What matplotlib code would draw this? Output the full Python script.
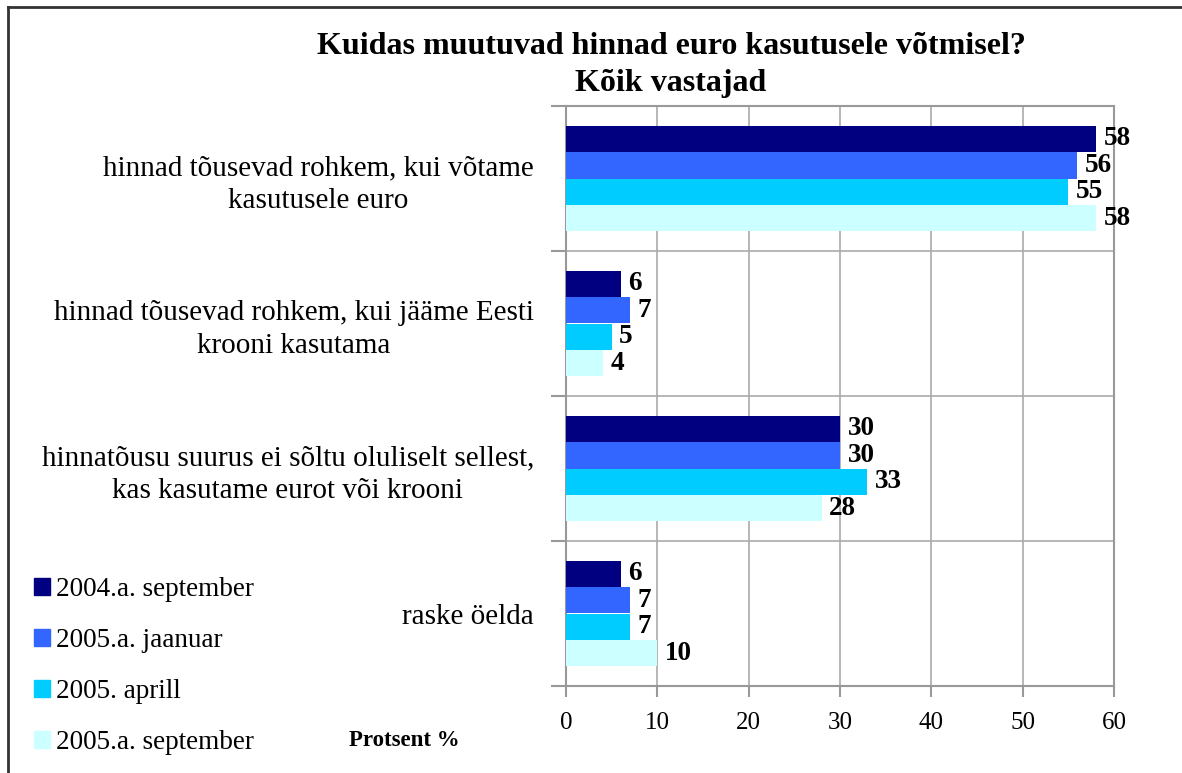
import matplotlib.pyplot as plt
from matplotlib.lines import Line2D
from matplotlib.patches import Patch
import numpy as np

plt.rcParams['font.family'] = ['Liberation Serif', 'DejaVu Serif']

categories = ['hinnad tõusevad rohkem, kui võtame\nkasutusele euro',
              'hinnad tõusevad rohkem, kui jääme Eesti\nkrooni kasutama',
              'hinnatõusu suurus ei sõltu oluliselt sellest,\nkas kasutame eurot või krooni',
              'raske öelda']
series_names = ['2004.a. september', '2005.a. jaanuar', '2005. aprill', '2005.a. september']
sep_2004 = [58, 6, 30, 6]
jan_2005 = [56, 7, 30, 7]
apr_2005 = [55, 5, 33, 7]
sep_2005 = [58, 4, 28, 10]
colors = ['#000080', '#3366FF', '#00CCFF', '#CCFFFF']

W, H = 1182, 773
fig = plt.figure(figsize=(W / 100, H / 100), dpi=100)
ax = fig.add_axes([566 / W, 1 - 686 / H, (1114 - 566) / W, (686 - 106) / H])

y = np.arange(len(categories))
bh = 0.73 / 4
for k, vals in enumerate([sep_2004, jan_2005, apr_2005, sep_2005]):
    offs = (k - 1.5) * bh
    bars = ax.barh(y + offs, vals, height=bh, color=colors[k], zorder=3, label=series_names[k])
    ax.bar_label(bars, padding=5.5, fontsize=19.5, fontweight='bold')

ax.set_xlim(0, 60)
ax.set_ylim(3.5, -0.5)
ax.set_xticks(range(0, 61, 10))
ax.set_yticks(np.arange(-0.5, 4, 1))
ax.set_yticklabels([])
ax.set_yticks(y, minor=True)
ax.set_yticklabels(categories, minor=True, fontsize=21, linespacing=1.32)
for lab in ax.get_yticklabels(minor=True):
    lab.set_multialignment('center')
ax.tick_params(axis='y', which='minor', length=0, pad=23)
ax.tick_params(axis='y', which='major', length=11, color='#999999', width=1.5)
ax.tick_params(axis='x', length=8, color='#999999', width=1.5, labelsize=18, pad=11)
ax.grid(True, color='#aaaaaa', linewidth=1.2, zorder=0)
for s in ax.spines.values():
    s.set_color('#999999')
    s.set_linewidth(1.5)

fig.text(671 / W, 1 - 47 / H, 'Kuidas muutuvad hinnad euro kasutusele võtmisel?',
         ha='center', va='center', fontsize=23, fontweight='bold')
fig.text(671 / W, 1 - 84 / H, 'Kõik vastajad',
         ha='center', va='center', fontsize=23, fontweight='bold')
fig.text(404 / W, 1 - 740 / H, 'Protsent %', ha='center', va='center', fontsize=16.5, fontweight='bold')

handles = [Patch(color=c) for c in colors]
fig.legend(handles, series_names, loc='upper left', bbox_to_anchor=(23 / W, 1 - 566 / H),
           frameon=False, fontsize=19.5, handlelength=0.6, handleheight=0.6,
           handletextpad=0.2, labelspacing=0.96, borderaxespad=0)

fig.add_artist(Line2D([8 / W, 1], [1 - 7 / H, 1 - 7 / H], color='#333333', linewidth=2))
fig.add_artist(Line2D([8 / W, 8 / W], [0, 1 - 7 / H], color='#333333', linewidth=2))

fig.savefig('out.png', dpi=100)
